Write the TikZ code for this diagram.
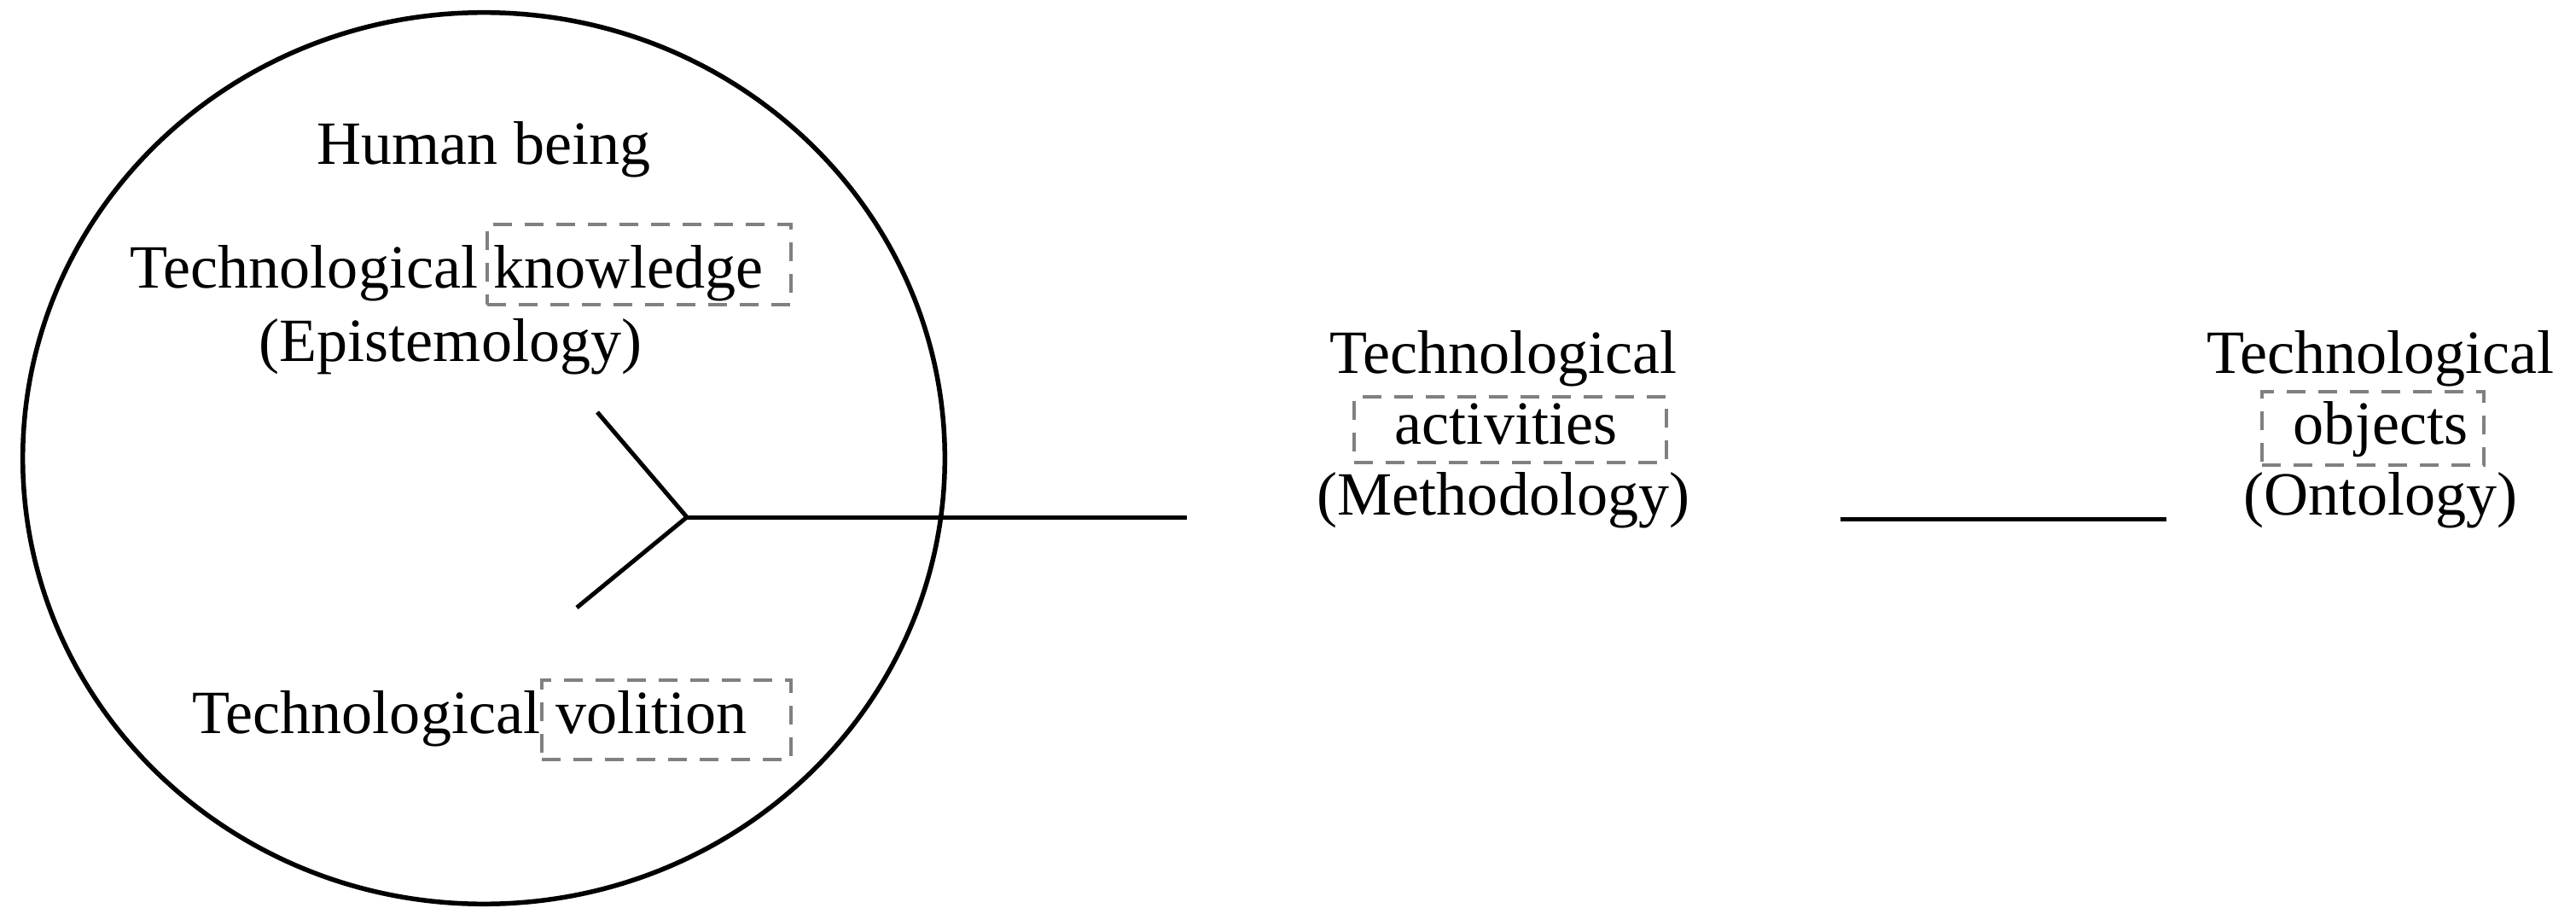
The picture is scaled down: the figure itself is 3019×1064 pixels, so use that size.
\documentclass[tikz,border=0pt]{standalone}
\usepackage{fontspec}
\setmainfont{Liberation Serif}
\begin{document}
\begin{tikzpicture}[x=0.01cm,y=-0.01cm,
  txt/.style={inner sep=0pt, anchor=base, font=\fontsize{20.5}{24}\selectfont},
  dashbox/.style={draw=black!50, line width=0.035cm, dash pattern=on 0.22cm off 0.15cm, inner sep=0pt},
  bar/.style={line width=0.05cm, black}]
\useasboundingbox (0,0) rectangle (3019,1064);

% the human being
\draw[bar, line width=0.055cm] (567,537) ellipse [x radius=5.40cm, y radius=5.22cm];
\node[txt] (human) at (567,193) {Human being};
\node[txt, anchor=base west] (know) at (152,338) {Technological knowledge};
\node[txt, anchor=base west] (episte) at (303,423) {(Epistemology)};
\node[txt, anchor=base west] (volit) at (225,859) {Technological volition};

% dashed frames
\node[dashbox, minimum width=3.56cm, minimum height=0.94cm] (kbox) at (749,310) {};
\node[dashbox, minimum width=2.92cm, minimum height=0.93cm] (vbox) at (781,843.5) {};
\node[dashbox, minimum width=3.66cm, minimum height=0.77cm] (abox) at (1770,503.5) {};
\node[dashbox, minimum width=2.60cm, minimum height=0.86cm] (obox) at (2781,502) {};

% activities
\node[txt] (tact) at (1762,437) {Technological};
\node[txt] (aact) at (1765,520) {activities};
\node[txt] (mact) at (1762,603) {(Methodology)};

% objects
\node[txt] (tobj) at (2790,437) {Technological};
\node[txt] (oobj) at (2790,520) {objects};
\node[txt] (ontol) at (2790,603) {(Ontology)};

% fork joining knowledge and volition
\coordinate (fork) at (805,606);
\coordinate (kend) at (700,483);
\coordinate (vend) at (676,712);
\coordinate (aend) at (1391,606);
\draw[bar] (kend) -- (fork) -- (vend);
\draw[bar] (fork) -- (aend);

% link from activities to objects
\coordinate (lstart) at (2157,608);
\coordinate (lend) at (2539,608);
\draw[bar] (lstart) -- (lend);
\end{tikzpicture}
\end{document}
